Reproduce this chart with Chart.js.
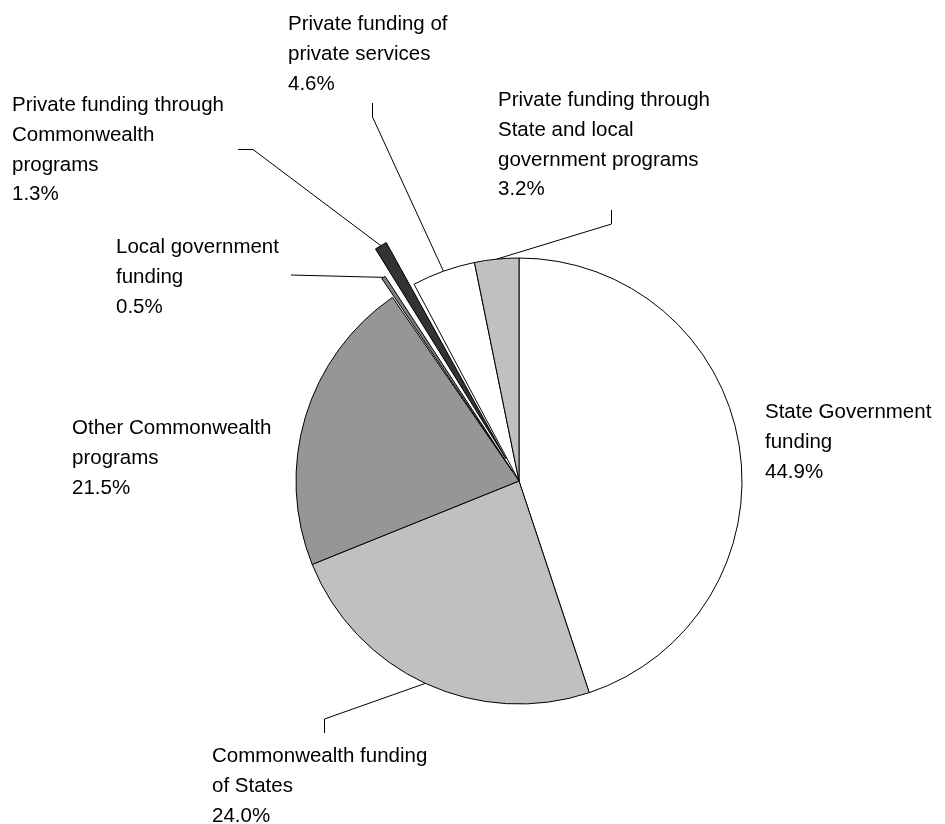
<!DOCTYPE html>
<html>
<head>
<meta charset="utf-8">
<script src="https://cdn.jsdelivr.net/npm/chart.js@4/dist/chart.umd.min.js"></script>
<style>
  html, body { margin: 0; padding: 0; background: #ffffff; }
  #wrap { width: 945px; height: 824px; position: relative; }
</style>
</head>
<body>
<div id="wrap"><canvas id="c" width="945" height="824"></canvas></div>
<script>
// ---- data ----
const categories = [
  ["State Government", "funding"],
  ["Commonwealth funding", "of States"],
  ["Other Commonwealth", "programs"],
  ["Local government", "funding"],
  ["Private funding through", "Commonwealth", "programs"],
  ["Private funding of", "private services"],
  ["Private funding through", "State and local", "government programs"]
];
const shares = [44.9, 24.0, 21.5, 0.5, 1.3, 4.6, 3.2];

// ---- styles / layout (not data) ----
const sliceColors = ['#ffffff', '#c0c0c0', '#969696', '#808080', '#333333', '#ffffff', '#c0c0c0'];
const sliceExplode = [0, 0, 0, 44, 104, 0, 0];
const labelAnchor = [[765, 418], [212, 762], [72, 434], [116, 253], [12, 111], [288, 30], [498, 106]];
const leaderPath = [
  null,
  [[324.5, 733], [324.5, 719]],
  null,
  [[291, 275]],
  [[238, 149.5], [253, 149.5]],
  [[372.5, 103], [372.5, 117]],
  [[611.5, 210], [611.5, 224]]
];
const FONT = '20.5px "Liberation Sans", Arial, sans-serif';
const LINE_H = 29.8;

const labelPlugin = {
  id: 'sliceLabels',
  afterDatasetsDraw(chart) {
    const ctx = chart.ctx;
    const meta = chart.getDatasetMeta(0);
    ctx.save();
    ctx.font = FONT;
    ctx.fillStyle = '#000000';
    ctx.textBaseline = 'alphabetic';
    ctx.textAlign = 'left';
    meta.data.forEach((arc, i) => {
      const p = arc.getProps(['x', 'y', 'startAngle', 'endAngle', 'outerRadius', 'circumference'], true);
      const off = (arc.options.offset || 0) / 4;
      const fix = 1 - Math.sin(Math.min(Math.PI, p.circumference || 0));
      const mid = (p.startAngle + p.endAngle) / 2;
      const r = p.outerRadius + off * fix + off;
      const ex = p.x + Math.cos(mid) * r;
      const ey = p.y + Math.sin(mid) * r;
      const path = leaderPath[i];
      if (path) {
        ctx.beginPath();
        ctx.strokeStyle = '#000000';
        ctx.lineWidth = 1;
        ctx.moveTo(path[0][0], path[0][1]);
        for (let k = 1; k < path.length; k++) ctx.lineTo(path[k][0], path[k][1]);
        ctx.lineTo(ex, ey);
        ctx.stroke();
      }
      const lines = categories[i].concat([shares[i].toFixed(1) + '%']);
      const [lx, ly] = labelAnchor[i];
      lines.forEach((t, k) => ctx.fillText(t, lx, ly + k * LINE_H));
    });
    ctx.restore();
  }
};

new Chart(document.getElementById('c'), {
  type: 'pie',
  data: {
    labels: categories.map(c => c.join(' ')),
    datasets: [{
      data: shares,
      backgroundColor: sliceColors,
      borderColor: '#000000',
      borderWidth: 1,
      offset: sliceExplode,
      hoverOffset: 0
    }]
  },
  options: {
    responsive: false,
    animation: false,
    events: [],
    radius: 223,
    layout: { padding: { left: 93, right: 0, top: 138, bottom: 0 } },
    plugins: {
      legend: { display: false },
      tooltip: { enabled: false }
    }
  },
  plugins: [labelPlugin]
});
</script>
</body>
</html>
